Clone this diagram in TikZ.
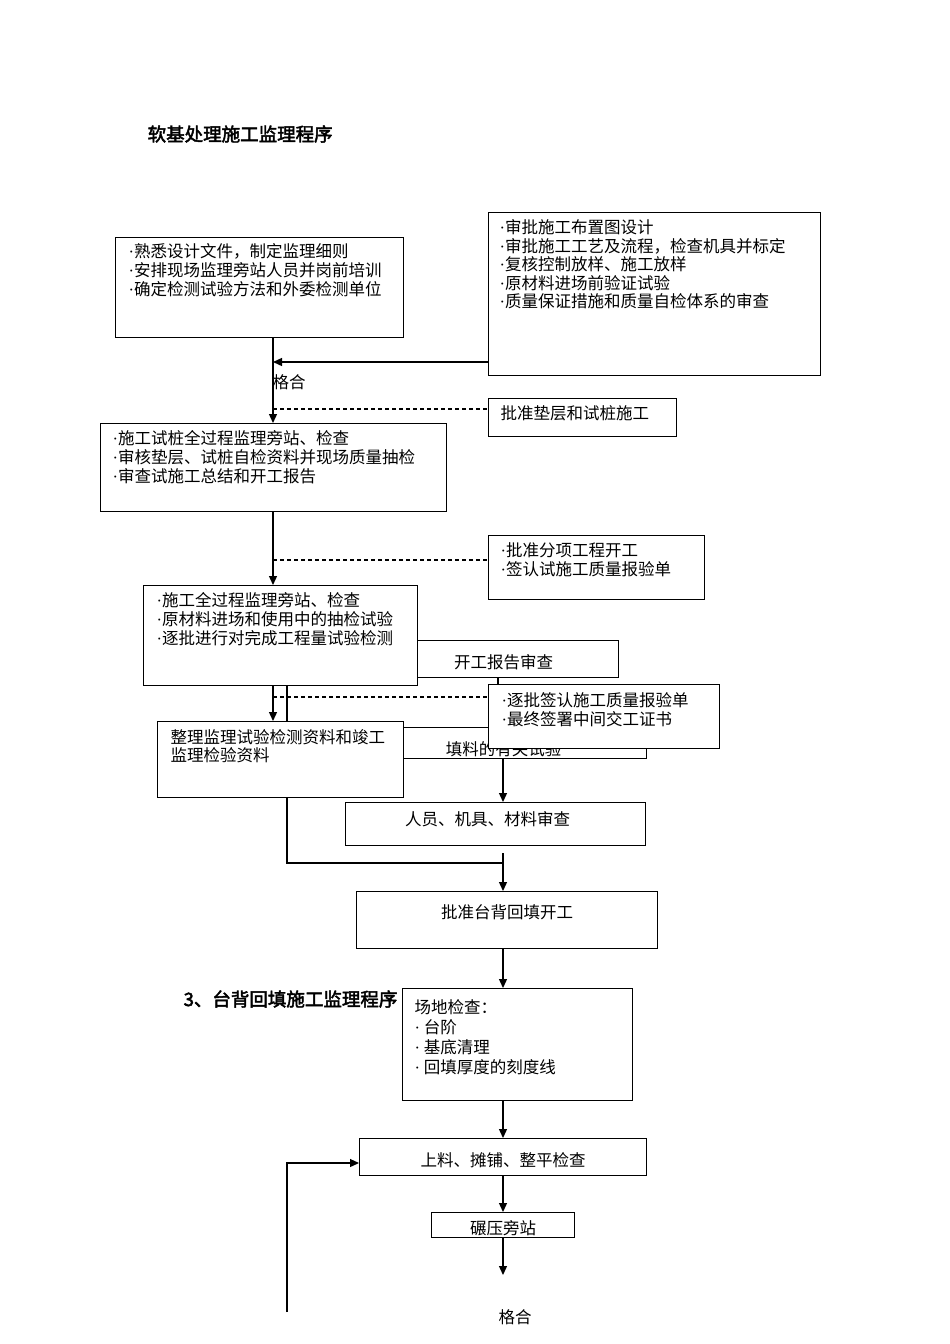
\documentclass[tikz,border=0pt]{standalone}
\usepackage{fontspec}
\setmainfont{Noto Sans CJK SC}[AutoFakeBold=2.5]
\newfontfamily\dotfont{Liberation Serif}
\newcommand\pt{{\dotfont ·}}
\usetikzlibrary{arrows.meta}

\begin{document}
\begin{tikzpicture}
    [
    x=1pt, y=-1pt, line width=1.3pt,
    box/.style={rectangle,draw,fill=white,anchor=north west,inner sep=0pt},
    txt/.style={anchor=north west,align=left,inner sep=0pt,xshift=12pt,yshift=-7pt,font=\fontsize{16.5}{19}\selectfont},
    mid/.style={anchor=center,inner sep=0pt,font=\fontsize{16.5}{19}\selectfont},
    heading/.style={anchor=west,inner sep=0pt,font=\fontsize{18.5}{22}\selectfont\bfseries},
    arr/.style={-{Triangle[length=9pt,width=8pt]}},
    link/.style={dash pattern=on 4pt off 3pt}
    ]
    \useasboundingbox (0,0) rectangle (950,1344);
    \node (title) at (147,134) [heading] {软基处理施工监理程序};
    \node (title2) at (183,999) [heading] {3、台背回填施工监理程序};
    % boxes lying underneath
    \node (report) at (388,640) [box, minimum width=230pt, minimum height=37pt, label={[mid,yshift=-3pt]center:{开工报告审查}}] {};
    \node (filltest) at (360,727) [box, minimum width=286pt, minimum height=31pt, label={[mid,yshift=-6pt]center:{填料的有关试验}}] {};
    % first chart
    \node (prep) at (115,237) [box, minimum width=288pt, minimum height=100pt, label={[txt,xshift=1pt,yshift=1pt]north west:{\pt 熟悉设计文件，制定监理细则\\\pt 安排现场监理旁站人员并岗前培训\\\pt 确定检测试验方法和外委检测单位}}] {};
    \node (approve) at (488,212) [box, minimum width=332pt, minimum height=163pt, label={[txt,xshift=-1pt,font=\fontsize{16.5}{18.5}\selectfont]north west:{\pt 审批施工布置图设计\\\pt 审批施工工艺及流程，检查机具并标定\\\pt 复核控制放样、施工放样\\\pt 原材料进场前验证试验\\\pt 质量保证措施和质量自检体系的审查}}] {};
    \node (cushion) at (488,398) [box, minimum width=188pt, minimum height=38pt, label={[txt]north west:{批准垫层和试桩施工}}] {};
    \node (trial) at (100,423) [box, minimum width=346pt, minimum height=88pt, label={[txt]north west:{\pt 施工试桩全过程监理旁站、检查\\\pt 审核垫层、试桩自检资料并现场质量抽检\\\pt 审查试施工总结和开工报告}}] {};
    \node (subitem) at (488,535) [box, minimum width=216pt, minimum height=64pt, label={[txt]north west:{\pt 批准分项工程开工\\\pt 签认试施工质量报验单}}] {};
    \node (construct) at (143,585) [box, minimum width=274pt, minimum height=100pt, label={[txt,xshift=1pt]north west:{\pt 施工全过程监理旁站、检查\\\pt 原材料进场和使用中的抽检试验\\\pt 逐批进行对完成工程量试验检测}}] {};
    \node (sign) at (488,684) [box, minimum width=231pt, minimum height=64pt, label={[txt,xshift=1pt,yshift=-1pt]north west:{\pt 逐批签认施工质量报验单\\\pt 最终签署中间交工证书}}] {};
    \node (archive) at (157,721) [box, minimum width=246pt, minimum height=76pt, label={[txt,xshift=1pt,yshift=-1pt,font=\fontsize{16.5}{18}\selectfont]north west:{整理监理试验检测资料和竣工\\监理检验资料}}] {};
    \node (staff) at (345,802) [box, minimum width=300pt, minimum height=43pt, label={[mid,xshift=-8pt,yshift=5pt]center:{人员、机具、材料审查}}] {};
    % second chart
    \node (start) at (356,891) [box, minimum width=301pt, minimum height=57pt, label={[mid,yshift=7.5pt]center:{批准台背回填开工}}] {};
    \node (site) at (402,988) [box, minimum width=230pt, minimum height=112pt, label={[txt,yshift=-4pt,font=\fontsize{16.5}{20}\selectfont]north west:{场地检查：\\\pt\ 台阶\\\pt\ 基底清理\\\pt\ 回填厚度的刻度线}}] {};
    \node (spread) at (359,1138) [box, minimum width=287pt, minimum height=37pt, label={[mid,yshift=-3.5pt]center:{上料、摊铺、整平检查}}] {};
    \node (roll) at (431,1212) [box, minimum width=143pt, minimum height=25pt, label={[mid,yshift=-3.5pt]center:{碾压旁站}}] {};
    \node (pass1) at (272,382) [mid, anchor=west] {格合};
    \node (pass2) at (498,1317) [mid, anchor=west] {格合};
    % connectors
    \coordinate (trunk) at (273,0);
    \coordinate (side) at (287,0);
    \coordinate (tick) at (498,0);
    \coordinate (axis) at (503,0);
    \coordinate (in-approve) at (273,362);
    \coordinate (in-cushion) at (273,409);
    \coordinate (in-subitem) at (273,560);
    \coordinate (in-sign) at (273,697);
    \coordinate (merge) at (503,863);
    \coordinate (tail) at (503,1275);
    \coordinate (loop) at (287,1312);
    \coordinate (back) at (0,1163);
    \draw [arr] (prep.south -| trunk) to (trial.north -| trunk);
    \draw [arr] (approve.west |- in-approve) to (in-approve);
    \draw [link] (in-cushion) to (cushion.west |- in-cushion);
    \draw [arr] (trial.south -| trunk) to (construct.north -| trunk);
    \draw [link] (in-subitem) to (subitem.west |- in-subitem);
    \draw [arr] (construct.south -| trunk) to (archive.north -| trunk);
    \draw (construct.south -| side) to (archive.north -| side);
    \draw [link] (in-sign) to (sign.west |- in-sign);
    \draw (report.south -| tick) to (sign.north -| tick);
    \draw [arr] (filltest.south -| axis) to (staff.north -| axis);
    \draw (archive.south -| side) |- (merge);
    \draw [arr, shorten <=7pt] (staff.south -| axis) to (start.north -| axis);
    \draw [arr] (start.south -| axis) to (site.north -| axis);
    \draw [arr] (site.south -| axis) to (spread.north -| axis);
    \draw [arr] (spread.south -| axis) to (roll.north -| axis);
    \draw [arr] (roll.south -| axis) to (tail);
    \draw [arr] (loop) |- (spread.west |- back);
  \end{tikzpicture}
\end{document}
